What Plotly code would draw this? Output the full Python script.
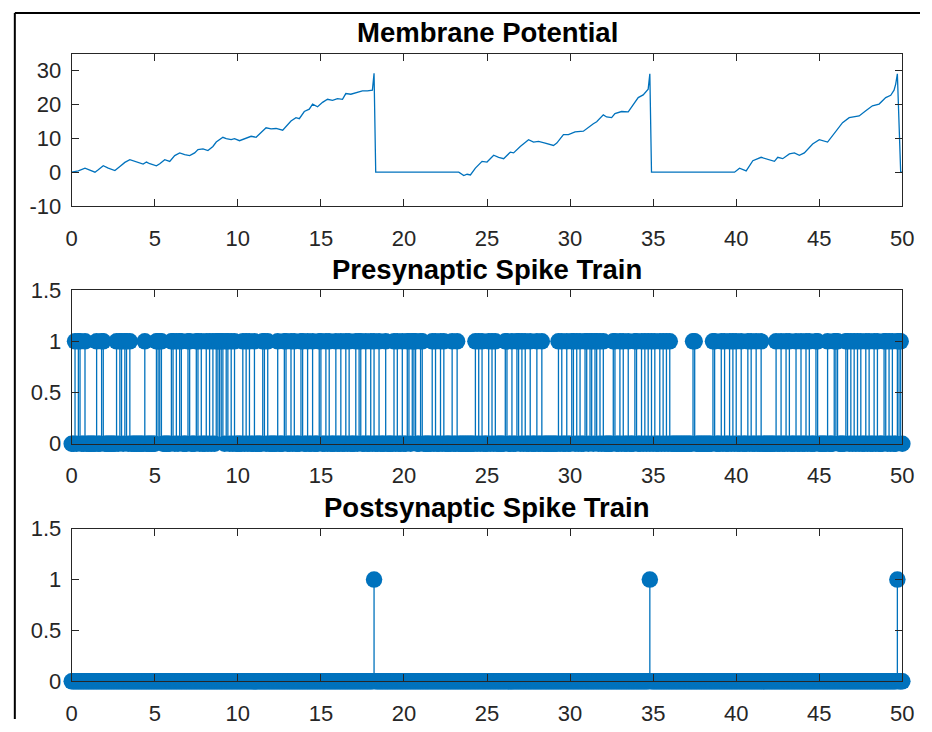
import numpy as np
import plotly.graph_objects as go

# ---------------- data ----------------
dt = 0.1
time = np.round(np.arange(0, 501) * dt, 1)          # sample grid 0..50 ms

pre_spike_times = [
    0.2, 0.4, 0.5, 0.8, 1.5, 1.8, 1.9, 2.7, 2.9, 3.0, 3.2, 3.3, 3.5, 4.4, 5.1, 5.2, 5.3, 5.4,
    6.0, 6.1, 6.3, 6.5, 6.6, 7.0, 7.1, 7.5, 7.6, 7.8, 8.1, 8.3, 8.5, 8.7, 8.8, 8.9, 9.0, 9.1,
    9.3, 9.4, 9.6, 9.8,
    10.3, 10.5, 10.7, 11.0, 11.5, 11.6, 11.8, 12.4, 12.8, 12.9, 13.2, 13.4, 13.8, 13.9, 14.2,
    14.5, 14.9, 15.0, 15.3, 15.5, 15.9, 16.2, 16.5, 16.7, 17.1, 17.3, 17.4, 17.7, 18.0, 18.2,
    18.5, 18.9, 19.4, 19.6, 19.9,
    20.2, 20.3, 20.5, 20.6, 20.7, 21.0, 21.1, 21.7, 21.9, 22.2, 22.4, 22.9, 23.2, 24.3, 24.5,
    24.7, 25.1, 25.3, 25.5, 26.1, 26.2, 26.5, 26.8, 26.9, 27.1, 27.3, 27.6, 28.0, 28.3, 29.3,
    29.5, 29.8,
    30.1, 30.2, 30.4, 30.6, 30.9, 31.0, 31.2, 31.3, 31.5, 31.6, 31.8, 32.0, 32.6, 32.7, 33.0,
    33.2, 33.5, 33.9, 34.0, 34.3, 34.5, 34.7, 34.9, 35.1, 35.4, 35.6, 35.8, 36.0, 37.4, 37.5,
    38.6, 38.7, 39.1, 39.3, 39.6, 39.8,
    40.0, 40.3, 40.7, 40.9, 41.2, 41.5, 42.4, 42.7, 43.0, 43.2, 43.6, 43.9, 44.2, 44.4, 44.8,
    44.9, 45.5, 45.9, 46.0, 46.1, 46.6, 46.7, 46.9, 47.1, 47.3, 47.5, 47.8, 48.0, 48.3, 48.5,
    48.9, 49.0, 49.2, 49.4, 49.7, 49.8, 49.9,
]
post_spike_times = [18.2, 34.8, 49.7]

vm_t = [0.0, 0.4, 0.8, 1.1, 1.4, 1.6, 1.9, 2.2, 2.6, 2.9, 3.2, 3.5, 3.9, 4.3, 4.5, 4.7, 5.1, 5.3,
        5.6, 5.9, 6.2, 6.5, 6.8, 7.1, 7.4, 7.6, 7.9, 8.2, 8.5, 8.7, 9.1, 9.3, 9.6, 9.8, 10.1,
        10.5, 10.8, 11.1, 11.4, 11.7, 12.0, 12.3, 12.7, 12.9, 13.2, 13.5, 13.7, 14.0, 14.3,
        14.5, 14.8, 15.1, 15.4, 15.7, 16.0, 16.3, 16.5, 16.8, 17.1, 17.5, 17.8, 18.1, 18.2,
        18.3, 23.3, 23.6, 23.8, 24.0, 24.3, 24.7, 25.0, 25.4, 25.7, 26.0, 26.4, 26.6, 27.0,
        27.5, 27.8, 28.1, 28.5, 29.0, 29.2, 29.6, 29.9, 30.3, 30.8, 31.1, 31.4, 31.6, 32.0,
        32.2, 32.5, 32.7, 33.1, 33.5, 33.8, 34.1, 34.4, 34.7, 34.8, 34.9, 39.9, 40.2, 40.6,
        41.0, 41.5, 41.9, 42.3, 42.5, 42.8, 43.2, 43.5, 43.8, 44.1, 44.6, 45.0, 45.5, 45.9,
        46.4, 46.8, 47.1, 47.4, 47.8, 48.2, 48.6, 49.0, 49.3, 49.5, 49.6, 49.7, 49.9, 50.0]
vm_v = [0.0, 0.4, 1.2, 0.7, 0.0, 0.7, 1.9, 1.2, 0.5, 1.7, 2.9, 3.7, 3.0, 2.4, 3.0, 2.5, 1.9, 2.5,
        3.7, 3.2, 4.9, 5.7, 5.2, 4.9, 5.7, 6.7, 6.9, 6.4, 7.6, 8.9, 10.3, 9.9, 9.6, 9.9, 9.3,
        10.1, 10.6, 10.3, 11.6, 13.1, 12.8, 12.9, 12.4, 13.6, 15.1, 16.1, 15.8, 17.9, 18.6,
        20.1, 19.3, 20.6, 21.5, 21.2, 21.7, 21.5, 23.2, 23.0, 23.5, 24.0, 24.0, 24.2, 29.2,
        0.0, 0.0, -1.0, -0.6, -0.8, 1.2, 3.2, 3.0, 5.0, 4.4, 4.0, 5.9, 5.7, 7.6,
        9.6, 8.9, 9.1, 8.6, 7.9, 8.6, 11.1, 11.1, 11.9, 12.1, 13.3, 14.3, 14.9, 16.9,
        16.3, 16.1, 17.3, 17.9, 17.8, 20.1, 22.0, 22.8, 24.5, 29.0, 0.0, 0.0, 1.2, 0.4,
        3.4, 4.4, 3.7, 3.2, 4.4, 4.0, 5.4, 5.7, 5.0, 5.7, 8.3, 9.6, 8.9, 11.3,
        14.6, 16.1, 16.4, 16.6, 18.1, 19.6, 20.1, 22.0, 22.7, 24.2, 26.0, 29.0, 0.0, 0.0]

titles = ["Membrane Potential", "Presynaptic Spike Train", "Postsynaptic Spike Train"]
x_ticks = [0, 5, 10, 15, 20, 25, 30, 35, 40, 45, 50]
vm_ticks = [-10, 0, 10, 20, 30]
vm_tick_text = ["-10", "0", "10", "20", "30"]
spike_ticks = [0, 0.5, 1, 1.5]
spike_tick_text = ["0", "0.5", "1", "1.5"]


def train(spike_times):
    s = np.zeros(len(time))
    idx = np.round(np.array(spike_times) / dt).astype(int)
    s[idx] = 1.0
    return s


pre = train(pre_spike_times)
post = train(post_spike_times)

BLUE = "#0072BD"
AX = "#262626"
W, H = 932, 732
FONT = "Liberation Sans, Arial, sans-serif"

fig = go.Figure()

fig.add_trace(go.Scatter(x=vm_t, y=vm_v, mode="lines", line=dict(color=BLUE, width=1.3),
                         xaxis="x", yaxis="y", showlegend=False, hoverinfo="skip"))


def stems(signal, xa, ya):
    sx, sy = [], []
    for tt, v in zip(time, signal):
        if v != 0:
            sx += [tt, tt, None]
            sy += [0, v, None]
    fig.add_trace(go.Scatter(x=sx, y=sy, mode="lines", line=dict(color=BLUE, width=1.3),
                             xaxis=xa, yaxis=ya, showlegend=False, hoverinfo="skip"))
    fig.add_trace(go.Scatter(x=time, y=signal, mode="markers",
                             marker=dict(color=BLUE, size=16.5, line=dict(width=0)),
                             cliponaxis=False, xaxis=xa, yaxis=ya, showlegend=False,
                             hoverinfo="skip"))


stems(pre, "x2", "y2")
stems(post, "x3", "y3")

# panel placement (pixels in figure space)
xdom = [67 / W, 914 / W]
ydoms = [[1 - 201 / H, 1 - 43 / H], [1 - 447 / H, 1 - 288 / H], [1 - 693 / H, 1 - 535 / H]]
font = dict(family=FONT, size=22, color=AX)

common_x = dict(domain=xdom, range=[0, 50], tickvals=x_ticks, ticks="inside", ticklen=7,
                tickcolor=AX, showline=True, linecolor=AX, linewidth=1, mirror="ticks",
                showgrid=False, zeroline=False, tickfont=font, ticklabelstandoff=12)
common_y = dict(ticks="inside", ticklen=7, tickcolor=AX, showline=True, linecolor=AX,
                linewidth=1, mirror="ticks", showgrid=False, zeroline=False, tickfont=font,
                ticklabelstandoff=5)

layout = dict(width=W, height=H, margin=dict(l=0, r=0, t=0, b=0), plot_bgcolor="white",
              paper_bgcolor="white", showlegend=False)
layout["xaxis"] = dict(common_x, anchor="y")
layout["yaxis"] = dict(common_y, domain=ydoms[0], range=[-10, 35], tickvals=vm_ticks,
                       ticktext=vm_tick_text, anchor="x")
layout["xaxis2"] = dict(common_x, anchor="y2")
layout["yaxis2"] = dict(common_y, domain=ydoms[1], range=[0, 1.5], tickvals=spike_ticks,
                        ticktext=spike_tick_text, anchor="x2")
layout["xaxis3"] = dict(common_x, anchor="y3")
layout["yaxis3"] = dict(common_y, domain=ydoms[2], range=[0, 1.5], tickvals=spike_ticks,
                        ticktext=spike_tick_text, anchor="x3")
fig.update_layout(**layout)

title_y = [1 - 21 / H, 1 - 267 / H, 1 - 513 / H]
for ttl, ty in zip(titles, title_y):
    fig.add_annotation(text="<b>" + ttl + "</b>", x=(xdom[0] + xdom[1]) / 2, y=ty,
                       xref="paper", yref="paper", showarrow=False, yanchor="middle",
                       font=dict(family=FONT, size=27.5, color="black"))

# outer frame of the screenshot (top and left edges)
fig.add_shape(type="line", xref="paper", yref="paper", x0=9 / W, x1=1, y0=1 - 1 / H,
              y1=1 - 1 / H, line=dict(color="black", width=2))
fig.add_shape(type="line", xref="paper", yref="paper", x0=9 / W, x1=9 / W, y0=0,
              y1=1 - 1 / H, line=dict(color="black", width=2))

fig.write_html(
    "out.html",
    config={"displayModeBar": False},
    post_script=(
        "document.documentElement.style.margin='0px';"
        "document.body.style.margin='0px';"
        "document.body.style.overflow='hidden';"
        "document.documentElement.style.overflow='hidden';"
        "var gd=document.getElementById('{plot_id}');"
        "gd.style.position='fixed';gd.style.left='0px';gd.style.top='0px';"
    ),
)
